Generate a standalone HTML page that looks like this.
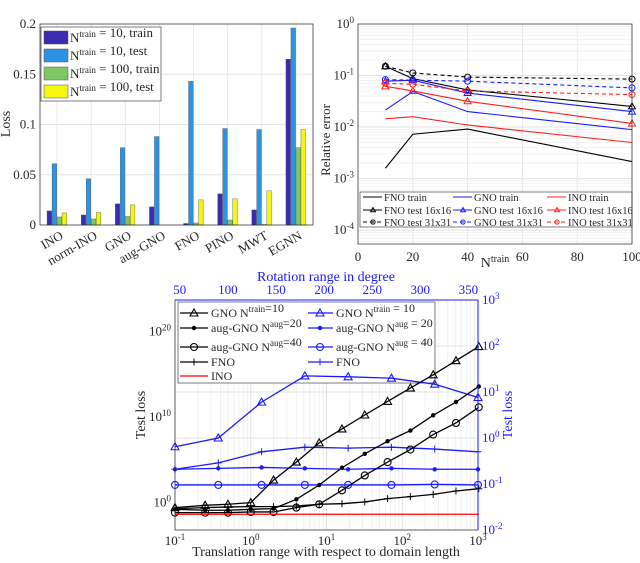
<!DOCTYPE html>
<html><head><meta charset="utf-8"><style>
body{margin:0;background:#fff}
svg{display:block;font-family:"Liberation Serif",serif}
</style></head><body>
<svg id="s" width="640" height="563" xmlns="http://www.w3.org/2000/svg"></svg>
<script>
// ---- bar chart data ----
const barCats=["INO","norm-INO","GNO","aug-GNO","FNO","PINO","MWT","EGNN"];
const barTrain10=[0.014,0.010,0.021,0.018,0.0015,0.031,0.015,0.165];
const barTest10=[0.061,0.046,0.077,0.088,0.143,0.096,0.095,0.196];
const barTrain100=[0.008,0.006,0.0085,0,0.002,0.005,0.0005,0.077];
const barTest100=[0.012,0.0125,0.020,0,0.025,0.026,0.034,0.095];
const barTicks=[0,0.05,0.1,0.15,0.2];
const barTickLabels=["0","0.05","0.1","0.15","0.2"];
// ---- relative error data (log10) ----
const ntrain=[10,20,40,100];
const fnoTrain=[-2.8,-2.14,-2.04,-2.67];
const gnoTrain=[-1.67,-1.31,-1.70,-2.05];
const inoTrain=[-1.84,-1.80,-1.96,-2.30];
const fnoTest16=[-0.82,-1.06,-1.28,-1.60];
const gnoTest16=[-1.11,-1.09,-1.34,-1.70];
const inoTest16=[-1.21,-1.30,-1.50,-1.93];
const fnoTest31=[-0.82,-0.95,-1.03,-1.07];
const gnoTest31=[-1.08,-1.09,-1.11,-1.24];
const inoTest31=[-1.15,-1.17,-1.30,-1.37];
// ---- translation / rotation data (log10) ----
const transX=[0.1,0.25,0.5,1,2,4,8,16,32,64,128,256,512,1024];
const gnoTrans=[-0.58,-0.31,-0.19,0,2.64,4.74,6.99,8.62,10.25,11.84,13.4,14.95,16.6,18.25];
const aug20Trans=[-0.78,-0.89,-0.89,-0.78,-0.70,0.39,2.06,4.08,5.71,7.18,8.43,10.21,11.77,13.59];
const aug40Trans=[-1.17,-1.17,-1.17,-1.09,-1.09,-0.58,-0.19,1.44,3.18,4.74,6.21,7.96,9.32,11.15];
const fnoTrans=[-0.7,-0.58,-0.5,-0.47,-0.47,-0.39,-0.19,-0.12,0.08,0.47,0.7,0.97,1.36,1.63];
const inoTrans=[-1.36,-1.36,-1.36,-1.36,-1.36,-1.36,-1.36,-1.36,-1.36,-1.36,-1.36,-1.36,-1.36,-1.36];
const rotX=[45,90,135,180,225,270,315,360];
const gnoRot=[-0.19,0.0,0.78,1.35,1.33,1.3,1.17,0.88];
const aug20Rot=[-0.68,-0.66,-0.64,-0.66,-0.68,-0.66,-0.68,-0.68];
const aug40Rot=[-1.02,-1.02,-1.02,-1.02,-1.02,-1.02,-1.01,-1.02];
const fnoRot=[-0.68,-0.54,-0.30,-0.2,-0.22,-0.2,-0.24,-0.30];

const S=document.getElementById('s');const NS="http://www.w3.org/2000/svg";
function mk(tag,at,name,parent){const e=document.createElementNS(NS,tag);for(const k in at)e.setAttribute(k,at[k]);


(parent||S).appendChild(e);return e;}
function txt(x,y,s,name,o){o=o||{};const t=mk('text',Object.assign({x:x,y:y,'font-size':o.fs||13,fill:o.fill||'#262626','text-anchor':o.a||'middle'},o.tr?{transform:o.tr}:{}),name);t.innerHTML=s;return t;}
const sup=(b,s,f)=>b+'<tspan dy="-5" font-size="'+(f||9)+'">'+s+'</tspan><tspan dy="5"></tspan>';

// ===== Bar chart =====
{const X0=40,X1=313,Y0=225,Y1=24;const y=v=>Y0-(v/0.2)*(Y0-Y1);const gw=(X1-X0)/8;
mk('rect',{x:X0,y:Y1,width:X1-X0,height:Y0-Y1,fill:'#fff'},'bar-plot-area');
barTicks.forEach((t,i)=>{mk('line',{x1:X0,x2:X1,y1:y(t),y2:y(t),stroke:'#e6e6e6'},'bar-grid-y');txt(X0-4,y(t)+4,barTickLabels[i],'bar-y-tick',{a:'end'});});
barCats.forEach((c,i)=>{const cx=X0+gw*(i+0.5);mk('line',{x1:cx,x2:cx,y1:Y0,y2:Y1,stroke:'#e6e6e6'},'bar-grid-x');});
const series=[[barTrain10,'#3b2bb0'],[barTest10,'#2c92e6'],[barTrain100,'#7dc863'],[barTest100,'#f5f50f']];
barCats.forEach((c,i)=>{const cx=X0+gw*(i+0.5);series.forEach((s,j)=>{const v=s[0][i];mk('rect',{x:cx-10+j*5,y:y(v),width:4.6,height:Y0-y(v),fill:s[1],stroke:'#555','stroke-width':0.4},'bar-'+c+'-'+j);});
txt(0,0,c,'bar-x-label',{a:'end',tr:'translate('+(cx+7)+','+(Y0+13)+') rotate(-30)'});});
mk('rect',{x:X0,y:Y1,width:X1-X0,height:Y0-Y1,fill:'none',stroke:'#262626','stroke-width':0.7},'bar-axes-box');
txt(0,0,'Loss','bar-y-axis-title',{fs:14,tr:'translate(10,124) rotate(-90)'});
const lg=mk('g',{},'bar-legend');mk('rect',{x:41,y:27,width:120,height:74,fill:'#fff',stroke:'#262626','stroke-width':0.6},'bar-legend-box',lg);
const labs=['= 10, train','= 10, test','= 100, train','= 100, test'];
series.forEach((s,j)=>{const yy=31+j*18;mk('rect',{x:44,y:yy,width:24,height:13,fill:s[1],stroke:'#555','stroke-width':0.5},'legend-swatch',lg);
txt(70,yy+11,sup('N','train')+' '+labs[j],'bar-legend-entry',{a:'start'});});}

// ===== Relative error =====
{const X0=358,X1=632,Y0=244,Y1=24;const x=v=>X0+v/100*(X1-X0);const y=l=>Y0-(l+4.27)/4.27*(Y0-Y1);
for(let d=-5;d<0;d++)for(let k=1;k<10;k++){const l=d+Math.log10(k);if(l<-4.27)continue;mk('line',{x1:X0,x2:X1,y1:y(l),y2:y(l),stroke:k==1?'#e0e0e0':'#f2f2f2'},'rel-grid');}
[0,20,40,60,80,100].forEach(t=>{mk('line',{x1:x(t),x2:x(t),y1:Y0,y2:Y1,stroke:'#e6e6e6'},'rel-grid-x');txt(x(t),Y0+17,t,'rel-x-tick');});
[0,-1,-2,-3,-4].forEach(d=>txt(X0-4,y(d)+4,sup('10',d),'rel-y-tick',{a:'end'}));
const lines=[[fnoTrain,'#000',0,''],[gnoTrain,'#1a1aff',0,''],[inoTrain,'#ff2020',0,''],[fnoTest16,'#000',0,'t'],[gnoTest16,'#1a1aff',0,'t'],[inoTest16,'#ff2020',0,'t'],[fnoTest31,'#000',1,'o'],[gnoTest31,'#1a1aff',1,'o'],[inoTest31,'#ff2020',1,'o']];
function marker(m,cx,cy,c,name,p,sc){sc=sc||1;if(m=='t')mk('path',{d:`M${cx},${cy-3.5*sc}L${cx+3.5*sc},${cy+2.5*sc}L${cx-3.5*sc},${cy+2.5*sc}Z`,fill:'none',stroke:c,'stroke-width':1},name,p);
else if(m=='o')mk('circle',{cx:cx,cy:cy,r:3*sc,fill:'none',stroke:c,'stroke-width':1},name,p);}
const lg=mk('g',{},'rel-legend');mk('rect',{x:360,y:192,width:272,height:35,fill:'#fff',stroke:'#262626','stroke-width':0.6},'rel-legend-box',lg);
lines.forEach((L,i)=>{mk('polyline',{points:ntrain.map((n,k)=>x(n)+','+y(L[0][k])).join(' '),fill:'none',stroke:L[1],'stroke-width':1.1,'stroke-dasharray':L[2]?'4,3':''},'rel-line-'+i);
ntrain.forEach((n,k)=>marker(L[3],x(n),y(L[0][k]),L[1],'rel-marker'));});
mk('rect',{x:X0,y:Y1,width:X1-X0,height:Y0-Y1,fill:'none',stroke:'#262626','stroke-width':0.7},'rel-axes-box');
const names=['FNO train','GNO train','INO train','FNO test 16x16','GNO test 16x16','INO test 16x16','FNO test 31x31','GNO test 31x31','INO test 31x31'];
const cx=[363,453,547],ry=[197,210,222];
lines.forEach((L,i)=>{const c=i%3,r=Math.floor(i/3);mk('line',{x1:cx[c],x2:cx[c]+19,y1:ry[r],y2:ry[r],stroke:L[1],'stroke-dasharray':L[2]?'4,3':''},'legend-line',lg);marker(L[3],cx[c]+10,ry[r],L[1],'legend-marker',lg,0.7);
txt(cx[c]+21,ry[r]+4,names[i],'rel-legend-entry',{a:'start',fs:10.5});});
txt(0,0,'Relative error','rel-y-axis-title',{tr:'translate(330,140) rotate(-90)'});
txt(495,267,sup('N','train',10),'rel-x-axis-title',{fs:14});}

// ===== Translation / rotation =====
{const X0=175,X1=478,Y0=530,Y1=300;const xb=v=>X0+(Math.log10(v)+1)/4*(X1-X0);const xt=v=>X0+(v-45)/315*(X1-X0);
const yl=l=>Y0-(l+3.2)/26.9*(Y0-Y1);const yr=l=>Y0-(l+2)/5*(Y0-Y1);
for(let d=-1;d<3;d++)for(let k=1;k<10;k++){const v=k*Math.pow(10,d);mk('line',{x1:xb(v),x2:xb(v),y1:Y0,y2:Y1,stroke:k==1?'#e0e0e0':'#f0f0f0'},'tr-grid-x');}
[-2,-1,0,1,2].forEach(d=>{mk('line',{x1:X0,x2:X1,y1:yr(d),y2:yr(d),stroke:'#e6e6e6'},'tr-grid-y');});
[-1,0,1,2,3].forEach(d=>txt(xb(Math.pow(10,d)),Y0+15,sup('10',d),'tr-x-tick'));
[50,100,150,200,250,300,350].forEach(t=>txt(xt(t),294,t,'rot-x-tick',{fill:'#1a1aff'}));
[0,10,20].forEach(d=>txt(X0-4,yl(d)+4,sup('10',d),'tr-y-tick',{a:'end'}));
[-2,-1,0,1,2,3].forEach(d=>txt(X1+4,yr(d)+4,sup('10',d),'rot-y-tick',{a:'start',fill:'#1a1aff'}));
function marker(m,cx,cy,c,name,p){if(m=='t')mk('path',{d:`M${cx},${cy-4}L${cx+4},${cy+3}L${cx-4},${cy+3}Z`,fill:'none',stroke:c,'stroke-width':1.1},name,p);
else if(m=='o')mk('circle',{cx:cx,cy:cy,r:3.5,fill:'none',stroke:c,'stroke-width':1.1},name,p);
else if(m=='d')mk('circle',{cx:cx,cy:cy,r:2.2,fill:c},name,p);
else if(m=='p')mk('path',{d:`M${cx-3.5},${cy}H${cx+3.5}M${cx},${cy-3.5}V${cy+3.5}`,stroke:c,'stroke-width':1},name,p);}
const B='#1a1aff';
const lg=mk('g',{},'tr-legend');mk('rect',{x:178,y:302,width:257,height:81,fill:'#fff',stroke:'#262626','stroke-width':0.6},'tr-legend-box',lg);
const rot=[[gnoRot,'t'],[aug20Rot,'d'],[aug40Rot,'o'],[fnoRot,'p']];
rot.forEach((s,i)=>{mk('polyline',{points:rotX.map((v,k)=>xt(v)+','+yr(s[0][k])).join(' '),fill:'none',stroke:B,'stroke-width':1.3},'rot-line-'+i);rotX.forEach((v,k)=>marker(s[1],xt(v),yr(s[0][k]),B,'rot-marker'));});
const tr=[[gnoTrans,'t','#000'],[aug20Trans,'d','#000'],[aug40Trans,'o','#000'],[fnoTrans,'p','#000'],[inoTrans,'','#ff0000']];
tr.forEach((s,i)=>{mk('polyline',{points:transX.map((v,k)=>xb(v)+','+yl(s[0][k])).join(' '),fill:'none',stroke:s[2],'stroke-width':1.3},'trans-line-'+i);transX.forEach((v,k)=>marker(s[1],xb(v),yl(s[0][k]),s[2],'trans-marker'));});
mk('rect',{x:X0,y:Y1,width:X1-X0,height:Y0-Y1,fill:'none',stroke:'#262626','stroke-width':0.7},'tr-axes-box');
mk('line',{x1:X1,x2:X1,y1:Y0,y2:Y1,stroke:B},'right-axis');mk('line',{x1:X0,x2:X1,y1:Y1,y2:Y1,stroke:B},'top-axis');
const ry=[313,328,347,362,376];
const left=[[sup('GNO N','train')+'=10','t','#000'],[sup('aug-GNO N','aug')+'=20','d','#000'],[sup('aug-GNO N','aug')+'=40','o','#000'],['FNO','p','#000'],['INO','','#ff0000']];
const right=[[sup('GNO N','train')+' = 10','t',B],[sup('aug-GNO N','aug')+' = 20','d',B],[sup('aug-GNO N','aug')+' = 40','o',B],['FNO','p',B]];
left.forEach((e,i)=>{mk('line',{x1:180,x2:208,y1:ry[i],y2:ry[i],stroke:e[2],'stroke-width':1.3},'legend-line',lg);marker(e[1],194,ry[i],e[2],'legend-marker',lg);txt(211,ry[i]+4,e[0],'tr-legend-entry',{a:'start',fs:12});});
right.forEach((e,i)=>{mk('line',{x1:308,x2:333,y1:ry[i],y2:ry[i],stroke:e[2],'stroke-width':1.3},'legend-line',lg);marker(e[1],320,ry[i],e[2],'legend-marker',lg);txt(336,ry[i]+4,e[0],'rot-legend-entry',{a:'start',fs:12});});
txt(326,281,'Rotation range in degree','rot-x-axis-title',{fill:B,fs:14});
txt(326,556,'Translation range with respect to domain length','tr-x-axis-title',{fs:14});
txt(0,0,'Test loss','tr-y-axis-title',{fs:14,tr:'translate(145,415) rotate(-90)'});
txt(0,0,'Test loss','rot-y-axis-title',{fs:14,fill:B,tr:'translate(512,415) rotate(-90)'});}
</script>
</body></html>
